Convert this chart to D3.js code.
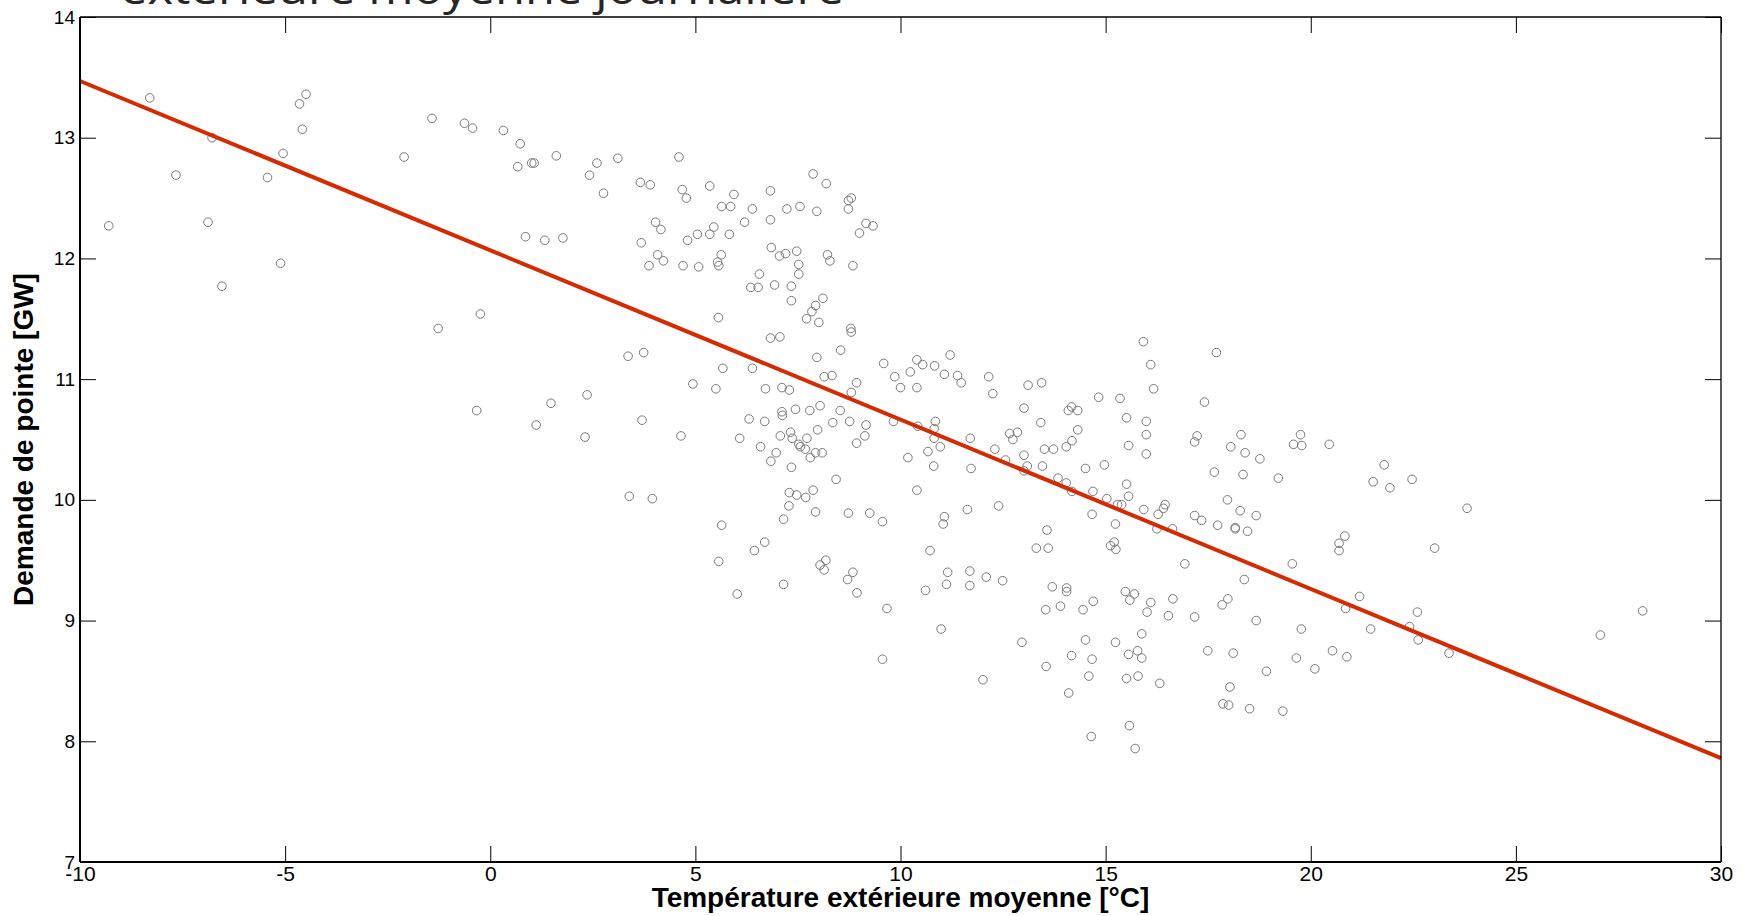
<!DOCTYPE html>
<html>
<head>
<meta charset="utf-8">
<script src="https://cdn.jsdelivr.net/npm/d3@7"></script>
<style>
  body { margin: 0; background: #fff; }
  svg { display: block; }
</style>
</head>
<body>
<svg id="chart" width="1744" height="916"></svg>
<script>
// ---- Data ----
const temperature = [
  -9.30,-8.30,-7.66,-6.88,-6.78,-6.54,-5.43,-5.11,-5.05,-4.65,-4.58,-4.49,-2.10,-1.42,-1.27,-0.63,-0.43,-0.33,-0.24,0.32,
  0.67,0.73,0.86,1.01,1.07,1.12,1.33,1.48,1.61,1.77,2.31,2.36,2.42,2.60,2.76,3.11,3.36,3.39,
  4.60,3.66,3.90,4.68,4.78,5.35,5.94,5.64,5.86,6.39,6.83,7.87,8.19,7.23,7.55,7.96,8.73,8.80,8.73,4.03,
  4.16,3.68,4.81,5.05,5.35,5.45,5.83,6.20,6.83,9.16,9.33,9.00,4.08,4.22,3.87,4.70,5.08,5.63,5.54,5.57,
  6.85,7.05,7.20,7.47,7.52,7.52,8.22,8.28,8.84,6.56,6.35,6.53,6.93,7.34,7.34,8.11,7.93,7.84,7.71,8.01,
  5.56,8.79,8.80,6.83,7.06,8.54,3.74,7.96,5.67,6.39,4.94,5.50,6.71,7.11,7.29,8.14,8.33,8.93,8.80,9.59,
  10.40,10.54,11.21,10.83,9.86,10.24,10.00,10.40,11.07,11.39,11.48,12.15,12.25,13.11,13.44,15.92,16.10,16.17,14.83,15.35,
  13.01,13.42,14.09,14.17,14.32,14.32,14.18,14.04,15.51,15.99,15.99,15.56,15.99,12.66,12.85,12.74,13.01,13.09,13.01,13.46,
  13.51,13.73,13.84,14.04,14.51,14.97,15.51,14.69,14.18,12.56,12.30,11.70,11.72,10.81,10.97,10.82,10.85,10.82,10.42,10.67,
  10.18,9.83,10.40,9.16,9.13,8.93,8.76,8.53,8.35,8.04,7.79,7.44,7.11,7.12,6.69,6.31,7.98,7.72,7.32,7.36,
  7.07,7.52,7.56,7.68,7.80,7.93,8.09,6.97,6.84,6.59,6.08,7.34,8.43,4.65,3.70,7.87,7.29,7.47,7.69,3.95,
  15.56,15.03,
  7.28,7.93,7.15,8.73,9.25,9.56,5.64,11.07,11.04,11.63,12.39,13.57,13.31,13.60,15.12,15.21,15.25,15.24,14.67,15.93,
  16.28,16.41,16.45,16.25,16.63,15.39,15.29,16.64,16.53,16.10,16.01,15.48,15.70,15.59,15.88,15.24,15.56,15.78,15.88,15.51,
  15.79,16.32,15.58,15.72,14.65,14.51,14.67,14.17,14.59,14.10,13.55,12.96,12.01,13.70,14.05,14.05,13.90,13.54,14.45,14.70,
  12.09,12.49,11.69,11.69,11.15,11.12,10.61,10.72,10.99,9.67,9.56,8.84,8.71,8.94,8.18,8.04,8.14,7.15,6.69,6.44,
  5.57,6.02,
  17.70,17.41,17.23,17.17,18.30,18.05,18.40,18.76,19.75,19.58,19.78,20.45,17.65,18.35,19.21,21.79,21.52,21.93,22.47,23.81,
  17.97,17.17,17.34,18.28,18.67,17.73,18.16,18.16,18.46,20.83,20.69,20.69,23.02,16.93,19.55,18.38,
  17.17,17.98,17.84,18.67,19.77,21.19,20.85,21.46,22.60,22.41,22.62,23.37,17.49,18.11,19.65,20.53,20.88,20.10,18.92,18.03,
  17.86,18.00,18.51,19.32,
  27.06,28.09
];
const demand = [
  12.27,13.33,12.69,12.30,13.00,11.77,12.67,11.96,12.87,13.28,13.07,13.36,12.84,13.16,11.42,13.12,13.08,10.74,11.54,13.06,
  12.76,12.95,12.18,12.79,12.79,10.62,12.15,10.80,12.85,12.17,10.52,10.87,12.69,12.79,12.54,12.83,11.19,10.03,
  12.84,12.63,12.61,12.57,12.50,12.60,12.53,12.43,12.43,12.41,12.56,12.70,12.62,12.41,12.43,12.39,12.48,12.50,12.41,12.30,
  12.24,12.13,12.15,12.20,12.20,12.26,12.20,12.30,12.32,12.29,12.27,12.21,12.03,11.98,11.94,11.94,11.93,12.03,11.97,11.94,
  12.09,12.02,12.04,12.06,11.95,11.87,12.03,11.98,11.94,11.87,11.76,11.76,11.78,11.77,11.65,11.67,11.61,11.56,11.50,11.47,
  11.51,11.42,11.39,11.34,11.35,11.24,11.22,11.18,11.09,11.09,10.96,10.92,10.92,10.93,10.91,11.02,11.03,10.97,10.89,11.13,
  11.16,11.12,11.20,11.11,11.02,11.06,10.93,10.93,11.04,11.03,10.97,11.02,10.88,10.95,10.97,11.31,11.12,10.92,10.85,10.84,
  10.76,10.64,10.74,10.77,10.74,10.58,10.49,10.44,10.68,10.65,10.54,10.45,10.38,10.55,10.56,10.50,10.37,10.28,10.24,10.28,
  10.42,10.42,10.18,10.14,10.26,10.29,10.13,10.07,10.07,10.33,10.42,10.51,10.26,10.28,10.44,10.51,10.65,10.59,10.61,10.40,
  10.35,10.65,10.08,10.62,10.53,10.47,10.65,10.74,10.64,10.78,10.74,10.75,10.73,10.70,10.65,10.67,10.58,10.51,10.56,10.51,
  10.53,10.46,10.44,10.42,10.35,10.39,10.39,10.39,10.32,10.44,10.51,10.27,10.17,10.53,10.66,10.08,10.06,10.04,10.02,10.01,
  10.03,10.01,
  9.95,9.90,9.84,9.89,9.89,9.82,9.79,9.86,9.80,9.92,9.95,9.75,9.60,9.60,9.62,9.65,9.59,9.80,9.88,9.92,
  9.88,9.93,9.96,9.76,9.76,9.96,9.96,9.18,9.04,9.15,9.07,9.24,9.22,9.17,8.89,8.82,8.72,8.75,8.69,8.52,
  8.54,8.48,8.13,7.94,8.04,8.84,8.68,8.71,8.54,8.40,8.62,8.82,8.51,9.28,9.27,9.24,9.12,9.09,9.09,9.16,
  9.36,9.33,9.41,9.29,9.40,9.30,9.25,9.58,8.93,9.10,8.68,9.40,9.34,9.23,9.50,9.46,9.42,9.30,9.65,9.58,
  9.49,9.22,
  11.22,10.81,10.53,10.48,10.54,10.44,10.39,10.34,10.54,10.46,10.45,10.46,10.23,10.21,10.18,10.29,10.15,10.10,10.17,9.93,
  10.00,9.87,9.83,9.91,9.87,9.79,9.77,9.76,9.74,9.70,9.64,9.58,9.60,9.47,9.47,9.34,
  9.03,9.18,9.13,9.00,8.93,9.20,9.10,8.93,9.07,8.95,8.84,8.73,8.75,8.73,8.69,8.75,8.70,8.60,8.58,8.45,
  8.31,8.30,8.27,8.25,
  8.88,9.08
];
// Linear fit drawn over the whole axis range
const fitTemperature = [-10, 30];
const fitDemand = [13.47, 7.86];

const xTicks = [-10, -5, 0, 5, 10, 15, 20, 25, 30];
const yTicks = [7, 8, 9, 10, 11, 12, 13, 14];
const xTickLabels = ["-10", "-5", "0", "5", "10", "15", "20", "25", "30"];
const yTickLabels = ["7", "8", "9", "10", "11", "12", "13", "14"];

const titleText = "extérieure moyenne journalière";
const xLabel = "Température extérieure moyenne [°C]";
const yLabel = "Demande de pointe [GW]";

// ---- Layout ----
const L = 80, R = 1721, T = 17, B = 862;
const svg = d3.select("#chart");
const x = d3.scaleLinear().domain([-10, 30]).range([L, R]);
const y = d3.scaleLinear().domain([7, 14]).range([B, T]);
const FONT = "'Liberation Sans', Arial, Helvetica, sans-serif";

// Title (only lower part visible)
svg.append("text")
  .attr("x", 120).attr("y", 4)
  .attr("font-family", "'Open Sans', 'Noto Sans', sans-serif")
  .attr("font-size", 44)
  .attr("fill", "#262626")
  .attr("textLength", 724)
  .attr("lengthAdjust", "spacingAndGlyphs")
  .text(titleText);

// Points
const pts = temperature.map((t, i) => ({ t, d: demand[i] }));
svg.append("g")
  .selectAll("circle")
  .data(pts)
  .join("circle")
  .attr("cx", p => x(p.t))
  .attr("cy", p => y(p.d))
  .attr("r", 4.3)
  .attr("fill", "none")
  .attr("stroke", "#7a7a7a")
  .attr("stroke-width", 1);

// Regression line
const fit = fitTemperature.map((t, i) => [t, fitDemand[i]]);
svg.append("path")
  .datum(fit)
  .attr("d", d3.line().x(p => x(p[0])).y(p => y(p[1])))
  .attr("fill", "none")
  .attr("stroke", "#d62a00")
  .attr("stroke-width", 4);

// Axes (inward ticks)
function styleAxis(g) {
  g.selectAll(".domain").remove();
  g.selectAll(".tick line").attr("stroke", "#000").attr("stroke-width", 1);
  g.selectAll(".tick text").attr("fill", "#000");
}
const xb = svg.append("g").attr("transform", `translate(0,${B})`)
  .call(d3.axisBottom(x).tickValues(xTicks).tickFormat((d, i) => xTickLabels[i])
    .tickSize(-16).tickSizeOuter(0).tickPadding(4))
  .attr("font-family", FONT).attr("font-size", 21);
styleAxis(xb);
const xt = svg.append("g").attr("transform", `translate(0,${T})`)
  .call(d3.axisTop(x).tickValues(xTicks).tickFormat("").tickSize(-16).tickSizeOuter(0));
styleAxis(xt);
const yl = svg.append("g").attr("transform", `translate(${L},0)`)
  .call(d3.axisLeft(y).tickValues(yTicks).tickFormat((d, i) => yTickLabels[i])
    .tickSize(-16).tickSizeOuter(0).tickPadding(5))
  .attr("font-family", FONT).attr("font-size", 19);
styleAxis(yl);
const yr = svg.append("g").attr("transform", `translate(${R},0)`)
  .call(d3.axisRight(y).tickValues(yTicks).tickFormat("").tickSize(-16).tickSizeOuter(0));
styleAxis(yr);

// Box
svg.append("line").attr("x1", L).attr("x2", R).attr("y1", B).attr("y2", B).attr("stroke", "#000").attr("stroke-width", 2);
svg.append("line").attr("x1", L).attr("x2", L).attr("y1", T).attr("y2", B).attr("stroke", "#000").attr("stroke-width", 2);
svg.append("line").attr("x1", L).attr("x2", R).attr("y1", T).attr("y2", T).attr("stroke", "#000").attr("stroke-width", 1.3);
svg.append("line").attr("x1", R).attr("x2", R).attr("y1", T).attr("y2", B).attr("stroke", "#000").attr("stroke-width", 1.3);

// Axis labels
svg.append("text")
  .attr("x", (L + R) / 2).attr("y", 907)
  .attr("text-anchor", "middle")
  .attr("font-family", FONT).attr("font-weight", "bold").attr("font-size", 28)
  .attr("fill", "#000")
  .text(xLabel);
svg.append("text")
  .attr("transform", `translate(33,${(T + B) / 2}) rotate(-90)`)
  .attr("text-anchor", "middle")
  .attr("font-family", FONT).attr("font-weight", "bold").attr("font-size", 28)
  .attr("fill", "#000")
  .text(yLabel);
</script>
</body>
</html>
